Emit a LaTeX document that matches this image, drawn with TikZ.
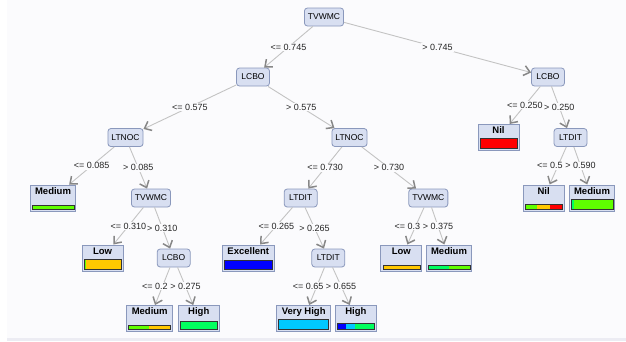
\documentclass[tikz,border=0pt]{standalone}
\usepackage{fontspec}
\setmainfont{Liberation Sans}
\usepackage{xcolor}
\usetikzlibrary{arrows.meta,calc,positioning}

\definecolor{bgcol}{RGB}{251,251,253}
\definecolor{bandcol}{RGB}{236,236,243}
\definecolor{nodefill}{RGB}{216,223,241}
\definecolor{nodeline}{RGB}{138,152,188}
\definecolor{edgecol}{RGB}{195,195,195}
\definecolor{tipcol}{RGB}{135,135,135}
\definecolor{cNil}{RGB}{255,0,0}
\definecolor{cLow}{RGB}{255,200,0}
\definecolor{cMedium}{RGB}{95,255,0}
\definecolor{cHigh}{RGB}{0,255,95}
\definecolor{cExcellent}{RGB}{0,0,255}
\definecolor{cVeryHigh}{RGB}{0,200,255}

\tikzset{
  attr/.style={draw=nodeline, fill=nodefill, line width=0.8pt, rounded corners=3pt,
    minimum height=18pt, minimum width=33pt, inner xsep=3.5pt,
    font=\fontsize{8.5}{10}\selectfont},
  leaf/.style={draw=nodeline, fill=nodefill, line width=1pt, minimum width=41pt,
    inner xsep=5pt, inner ysep=1.5pt, text height=7.5pt, text depth=15.5pt,
    font=\bfseries\fontsize{9.5}{11}\selectfont},
  edge/.style={draw=edgecol, line width=0.9pt,
    -{Straight Barb[length=6pt, width=10pt, line width=1.5pt, color=tipcol]}},
  lbl/.style={fill=bgcol, inner sep=1pt, text=black!85, font=\fontsize{9}{10}\selectfont},
  barline/.style={draw=black!80, line width=0.6pt}
}

% 叶子底部的类别条: 叶子名, 高度, 各段 {起/止/颜色}
\newcommand{\classbar}[3]{%
  \coordinate (#1-bl) at ($(#1.south west)+(2.5,-2.5)$);
  \coordinate (#1-br) at ($(#1.south east)+(-2.5,-2.5)$);
  \foreach \p/\q/\col in {#3}
    \fill[\col] ($(#1-bl)!\p!(#1-br)$) rectangle ($(#1-bl)!\q!(#1-br)+(0,-#2)$);
  \draw[barline] (#1-bl) rectangle ($(#1-br)+(0,-#2)$);
}

\begin{document}
\begin{tikzpicture}[x=1pt,y=-1pt]
    \useasboundingbox (0,0) rectangle (626,341);
    % 背景
    \fill[white] (0,0) rectangle (626,341);
    \fill[bgcol] (7,0) rectangle (626,338);
    \fill[bandcol] (7,338) rectangle (626,341);

    % 内部结点
    \node[attr] (root) at (324,17) {TVWMC};
    \node[attr] (lcboA) at (253,77) {LCBO};
    \node[attr] (lcboB) at (548,77) {LCBO};
    \node[attr] (ltnocA) at (125.5,137.5) {LTNOC};
    \node[attr] (ltnocB) at (349.5,137.5) {LTNOC};
    \node[attr] (ltditA) at (570.5,137.5) {LTDIT};
    \node[attr] (tvwmcB) at (151,198) {TVWMC};
    \node[attr] (ltditB) at (300.7,198) {LTDIT};
    \node[attr] (tvwmcC) at (428.3,198) {TVWMC};
    \node[attr] (lcboC) at (173.7,258) {LCBO};
    \node[attr] (ltditC) at (328.3,258) {LTDIT};

    % 叶子
    \node[leaf] (nilA) at (498.5,137.5) {Nil};
    \node[leaf] (medA) at (53,198) {Medium};
    \node[leaf] (nilB) at (543.7,198) {Nil};
    \node[leaf] (medB) at (592,198) {Medium};
    \node[leaf] (lowA) at (102.5,258) {Low};
    \node[leaf] (exc) at (248.3,258) {Excellent};
    \node[leaf] (lowB) at (401.3,258) {Low};
    \node[leaf] (medC) at (449,258) {Medium};
    \node[leaf] (medD) at (149.7,318.5) {Medium};
    \node[leaf] (highA) at (198.8,318.5) {High};
    \node[leaf] (vhigh) at (303.7,318.5) {Very High};
    \node[leaf] (highB) at (355.8,318.5) {High};

    % 类别条
    \classbar{nilA}{10}{0/1/cNil}
    \classbar{medA}{4}{0/1/cMedium}
    \classbar{nilB}{4.6}{0/0.31/cMedium, 0.31/0.67/cLow, 0.67/1/cNil}
    \classbar{medB}{9.3}{0/0.08/cHigh, 0.08/1/cMedium}
    \classbar{lowA}{10}{0/0.05/cMedium, 0.05/1/cLow}
    \classbar{exc}{8.3}{0/1/cExcellent}
    \classbar{lowB}{4}{0/1/cLow}
    \classbar{medC}{4}{0/0.5/cHigh, 0.5/1/cMedium}
    \classbar{medD}{4.3}{0/0.48/cMedium, 0.48/1/cLow}
    \classbar{highA}{8.3}{0/1/cHigh}
    \classbar{vhigh}{10}{0/1/cVeryHigh}
    \classbar{highB}{6.6}{0/0.24/cExcellent, 0.24/0.47/cVeryHigh, 0.47/1/cHigh}

    % 分支和条件
    \draw[edge] (root) -- node[lbl] (e1) {<= 0.745} (lcboA);
    \draw[edge] (root) -- node[lbl] (e2) {> 0.745} (lcboB);
    \draw[edge] (lcboA) -- node[lbl] (e3) {<= 0.575} (ltnocA);
    \draw[edge] (lcboA) -- node[lbl] (e4) {> 0.575} (ltnocB);
    \draw[edge] (lcboB) -- node[lbl] (e5) {<= 0.250} (nilA);
    \draw[edge] (lcboB) -- node[lbl] (e6) {> 0.250} (ltditA);
    \draw[edge] (ltnocA) -- node[lbl] (e7) {<= 0.085} (medA);
    \draw[edge] (ltnocA) -- node[lbl] (e8) {> 0.085} (tvwmcB);
    \draw[edge] (ltnocB) -- node[lbl] (e9) {<= 0.730} (ltditB);
    \draw[edge] (ltnocB) -- node[lbl] (e10) {> 0.730} (tvwmcC);
    \draw[edge] (ltditA) -- node[lbl] (e12) {> 0.590} (medB);
    \draw[edge] (ltditA) -- (nilB);
    \node[lbl, left=0pt of e12] (e11) {<= 0.5}; % 被右边的条件盖住一半
    \draw[edge] (tvwmcB) -- node[lbl] (e13) {<= 0.310} (lowA);
    \draw[edge] (tvwmcB) -- node[lbl] (e14) {> 0.310} (lcboC);
    \draw[edge] (ltditB) -- node[lbl] (e15) {<= 0.265} (exc);
    \draw[edge] (ltditB) -- node[lbl] (e16) {> 0.265} (ltditC);
    \draw[edge] (tvwmcC) -- node[lbl] (e18) {> 0.375} (medC);
    \draw[edge] (tvwmcC) -- (lowB);
    \node[lbl, left=0pt of e18] (e17) {<= 0.3};
    \draw[edge] (lcboC) -- node[lbl] (e20) {> 0.275} (highA);
    \draw[edge] (lcboC) -- (medD);
    \node[lbl, left=0pt of e20] (e19) {<= 0.2};
    \draw[edge] (ltditC) -- node[lbl] (e22) {> 0.655} (highB);
    \draw[edge] (ltditC) -- (vhigh);
    \node[lbl, left=0pt of e22] (e21) {<= 0.65};
\end{tikzpicture}
\end{document}
